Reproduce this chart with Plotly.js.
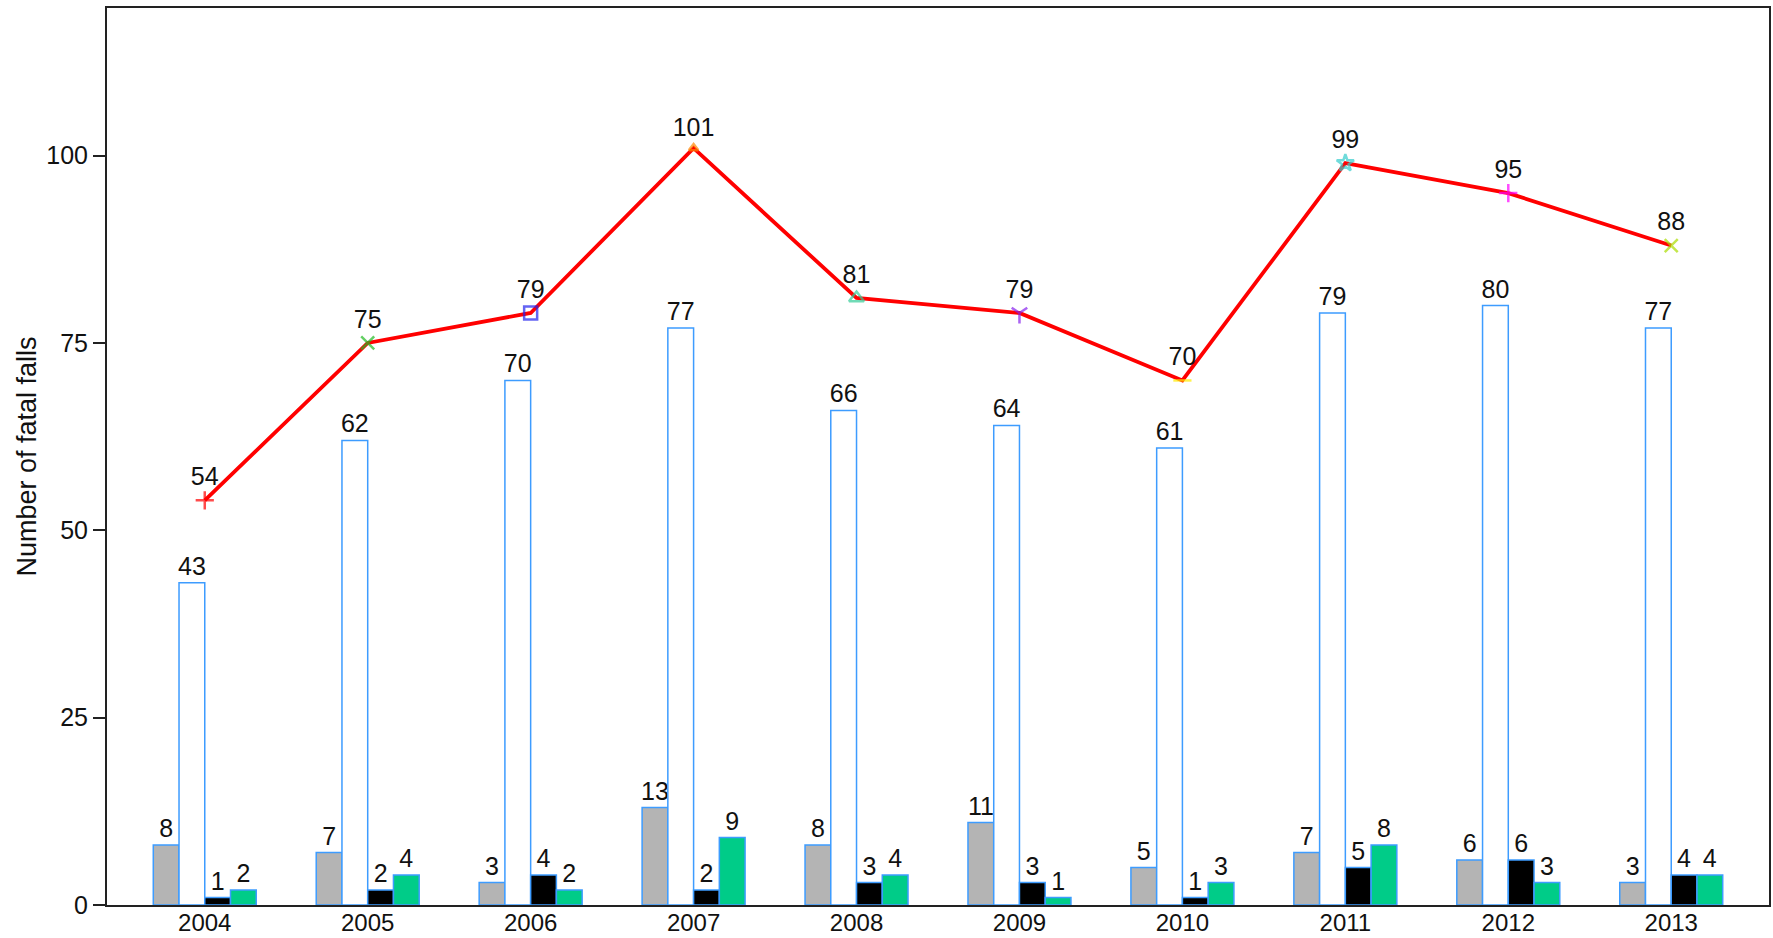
<!DOCTYPE html>
<html>
<head>
<meta charset="utf-8">
<script src="https://cdn.plot.ly/plotly-3.0.1.min.js"></script>
<style>
html,body{margin:0;padding:0;background:#fff;}
#chart{width:1773px;height:938px;}
</style>
</head>
<body>
<div id="chart"></div>
<script>
// ---- data ----
const years = ["2004","2005","2006","2007","2008","2009","2010","2011","2012","2013"];
const seriesGray  = [8, 7, 3, 13, 8, 11, 5, 7, 6, 3];
const seriesWhite = [43, 62, 70, 77, 66, 64, 61, 79, 80, 77];
const seriesBlack = [1, 2, 4, 2, 3, 3, 1, 5, 6, 4];
const seriesGreen = [2, 4, 2, 9, 4, 1, 3, 8, 3, 4];
const totals      = [54, 75, 79, 101, 81, 79, 70, 99, 95, 88];
const yTicks = [0, 25, 50, 75, 100];
const yTitle = "Number of fatal falls";

// ---- styles ----
const FONT = "Liberation Sans, Arial, sans-serif";
const outline = "#3d9cff";
const markerSymbols = ["cross-thin","x-thin","square-open","triangle-up-open","triangle-up-open","y-down","line-ew","star-open","cross-thin","x-thin"];
const markerColors  = ["#ff0000","#22bb22","#2222ee","#ff8800","#33cc99","#8822ee","#ffee00","#33cccc","#ff00ff","#aadd00"];
const markerSizes   = [13, 13, 13, 8, 13, 13, 13, 13, 13, 13];

function barTrace(vals, fill){
  return {
    type: "bar", x: years, y: vals,
    text: vals.map(String), textposition: "outside",
    constraintext: "none", cliponaxis: false,
    textfont: {family: FONT, size: 25, color: "#111"},
    marker: {color: fill, line: {color: outline, width: 1.5}},
    hoverinfo: "x+y"
  };
}

const traces = [
  barTrace(seriesGray, "#b4b4b4"),
  barTrace(seriesWhite, "#ffffff"),
  barTrace(seriesBlack, "#000000"),
  barTrace(seriesGreen, "#00cc88"),
  {
    type: "scatter", mode: "lines+markers+text",
    x: years, y: totals,
    text: totals.map(String), textposition: "top center",
    textfont: {family: FONT, size: 25, color: "#111"},
    cliponaxis: false,
    line: {color: "#ff0000", width: 3.8},
    marker: {symbol: markerSymbols, color: markerColors, size: markerSizes,
             line: {color: markerColors, width: 2.5}}
  }
];

const layout = {
  width: 1773, height: 938,
  margin: {l: 107, r: 4, t: 8, b: 33},
  paper_bgcolor: "#fff", plot_bgcolor: "#fff",
  showlegend: false,
  barmode: "group", bargap: 0.368, bargroupgap: 0,
  font: {family: FONT, size: 25, color: "#111"},
  xaxis: {
    type: "category", range: [-0.6, 9.6],
    showgrid: false, zeroline: false,
    showline: true, linecolor: "#222", linewidth: 2, mirror: true,
    ticks: "", ticklabelstandoff: -5,
    tickfont: {family: FONT, size: 24, color: "#111"}
  },
  yaxis: {
    range: [0, 119.7], tickvals: yTicks, ticktext: yTicks.map(String),
    showgrid: false, zeroline: false,
    showline: true, linecolor: "#222", linewidth: 2, mirror: true,
    ticks: "outside", ticklen: 12, tickwidth: 2, tickcolor: "#222",
    tickfont: {family: FONT, size: 25, color: "#111"},
    title: {text: yTitle, font: {family: FONT, size: 27, color: "#111"}, standoff: 2}
  }
};

Plotly.newPlot("chart", traces, layout, {displayModeBar: false, staticPlot: true});
</script>
</body>
</html>
